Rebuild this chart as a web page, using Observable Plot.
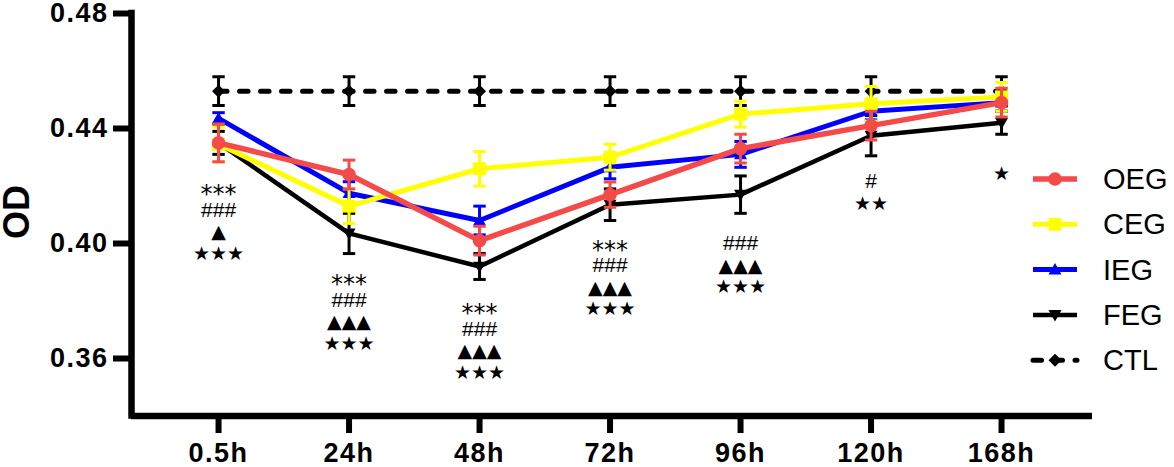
<!DOCTYPE html>
<html><head><meta charset="utf-8">
<script src="https://cdn.jsdelivr.net/npm/d3@7"></script>
<script src="https://cdn.jsdelivr.net/npm/@observablehq/plot@0.6"></script>
<style>
body{margin:0;background:#fff;}
#wrap{position:relative;width:1174px;height:467px;font-family:"Liberation Sans",Arial,Helvetica,sans-serif;}
#wrap svg{font-family:"Liberation Sans",Arial,Helvetica,sans-serif;}
g[aria-label="x-axis tick label"], g[aria-label="y-axis tick label"]{font-size:27px;font-weight:bold;letter-spacing:1.5px;}
#overlay{position:absolute;left:0;top:0;pointer-events:none;}
</style></head><body><div id="wrap"></div>
<script>
// ---- data ----
const times = ["0.5h","24h","48h","72h","96h","120h","168h"];
const OEG = [0.435, 0.424, 0.401, 0.417, 0.433, 0.441, 0.449];
const OEG_err = [0.0066, 0.005, 0.005, 0.0044, 0.005, 0.005, 0.005];
const CEG = [0.4345, 0.413, 0.426, 0.430, 0.445, 0.4486, 0.451];
const CEG_err = [0.006, 0.006, 0.006, 0.0045, 0.0045, 0.006, 0.005];
const IEG = [0.4435, 0.4175, 0.408, 0.4265, 0.431, 0.446, 0.449];
const IEG_err = [0.002, 0.004, 0.005, 0.004, 0.0045, 0.003, 0.003];
const FEG = [0.435, 0.4035, 0.392, 0.4135, 0.417, 0.4375, 0.442];
const FEG_err = [0.004, 0.007, 0.0045, 0.0055, 0.0065, 0.007, 0.004];
const CTL = [0.453, 0.453, 0.453, 0.453, 0.453, 0.453, 0.453];
const CTL_err = [0.005, 0.005, 0.005, 0.005, 0.005, 0.005, 0.005];
const annotations = [
  ["***","###","▲","★★★"],
  ["***","###","▲▲▲","★★★"],
  ["***","###","▲▲▲","★★★"],
  ["***","###","▲▲▲","★★★"],
  ["###","▲▲▲","★★★"],
  ["#","★★"],
  ["★"]
];
const annotationY = [0.4191, 0.3878, 0.3777, 0.3997, 0.4000, 0.4216, 0.4247];
const yTicks = [0.36, 0.40, 0.44, 0.48];
const yDomain = [0.34, 0.48];
const yLabel = "OD";

// ---- symbols ----
const unit = s => Math.sqrt(s / Math.PI);
const capSym = {draw(c, s){const r = unit(s); c.moveTo(-r,0); c.lineTo(r,0);}};
const triUp = {draw(c, s){const r = unit(s); c.moveTo(0,-r*1.0); c.lineTo(r,r*0.75); c.lineTo(-r,r*0.75); c.closePath();}};
const triDown = {draw(c, s){const r = unit(s); c.moveTo(0,r*1.0); c.lineTo(r,-r*0.75); c.lineTo(-r,-r*0.75); c.closePath();}};
const diamondSym = {draw(c, s){const r = unit(s); c.moveTo(0,-r); c.lineTo(r,0); c.lineTo(0,r); c.lineTo(-r,0); c.closePath();}};
const squareSym = {draw(c, s){const r = unit(s); c.rect(-r,-r,2*r,2*r);}};
const circleSym = {draw(c, s){const r = unit(s); c.moveTo(r,0); c.arc(0,0,r,0,2*Math.PI);}};

const series = [
  {name:"CTL", values:CTL, err:CTL_err, color:"#000000", symbol:diamondSym, r:6.5, width:5, dash:"8.5,12.5"},
  {name:"FEG", values:FEG, err:FEG_err, color:"#000000", symbol:triDown, r:6.5, width:4.5},
  {name:"IEG", values:IEG, err:IEG_err, color:"#0000ff", symbol:triUp, r:6.5, width:5},
  {name:"CEG", values:CEG, err:CEG_err, color:"#ffff00", symbol:squareSym, r:6.5, width:5},
  {name:"OEG", values:OEG, err:OEG_err, color:"#f44a4a", symbol:circleSym, r:6.8, width:5.5}
];
const legendOrder = ["OEG","CEG","IEG","FEG","CTL"];

const marks = [];
for (const s of series) {
  const rows = times.map((t, i) => ({i, time:t, value:s.values[i], err:s.err[i]}));
  const caps = rows.flatMap(d => [{i:d.i, y:d.value - d.err}, {i:d.i, y:d.value + d.err}]);
  marks.push(Plot.ruleX(rows, {x:"i", y1:d => d.value - d.err, y2:d => d.value + d.err, stroke:s.color, strokeWidth:3}));
  marks.push(Plot.dot(caps, {x:"i", y:"y", symbol:capSym, r:6.2, stroke:s.color, strokeWidth:3, fill:"none"}));
  marks.push(Plot.line(rows, {x:"i", y:"value", stroke:s.color, strokeWidth:s.width, strokeDasharray:s.dash, strokeLinecap:s.dash ? "round" : "butt"}));
  marks.push(Plot.dot(rows, {x:"i", y:"value", symbol:s.symbol, r:s.r, fill:s.color, stroke:"none"}));
}

// significance marks: one row per line of each stack
const yScaleK = (yDomain[1] - yDomain[0]) / (467 - 13 - 51.5); // data units per pixel
const lineStep = 21.3 * yScaleK;
const annRows = annotations.flatMap((lines, i) => lines.map((text, k) => ({i, k, text, y: annotationY[i] - k * lineStep})));
const annStyles = [
  {lead:"*", fontSize:24, fontFamily:"'DejaVu Sans',sans-serif", dy:6},
  {lead:"#", fontSize:21, fontFamily:"'Liberation Sans',Arial,sans-serif", dy:0},
  {lead:"▲", fontSize:19, fontFamily:"'DejaVu Sans',sans-serif", dy:1},
  {lead:"★", fontSize:19, fontFamily:"'DejaVu Sans',sans-serif", dy:1}
];
for (const st of annStyles) {
  marks.push(Plot.text(annRows.filter(d => d.text[0] === st.lead), {x:"i", y:"y", text:"text", lineAnchor:"middle",
    fontSize:st.fontSize, fontFamily:st.fontFamily, dy:st.dy, fill:"#000"}));
}

const xDomain = [-0.667, 6.697];
marks.push(Plot.ruleY([yDomain[0]], {y:d => d, stroke:"#000", strokeWidth:6.5}));
marks.push(Plot.ruleX([xDomain[0]], {x:d => d, y1:yDomain[0], y2:yDomain[1], stroke:"#000", strokeWidth:6.5, strokeLinecap:"square"}));
marks.push(Plot.axisX({ticks:d3.range(times.length), tickFormat:i => times[i], tickSize:17.5, tickPadding:9, strokeWidth:6, label:null}));
marks.push(Plot.axisY({ticks:yTicks, tickFormat:d3.format(".2f"), tickSize:18, tickPadding:5, strokeWidth:6, label:null}));

const chart = Plot.plot({
  width:1174, height:467,
  marginLeft:131, marginRight:82, marginTop:13, marginBottom:51.5,
  x:{type:"linear", domain:xDomain},
  y:{domain:yDomain},
  style:{fontFamily:"'Liberation Sans',Arial,sans-serif", background:"#fff"},
  marks
});
const wrap = document.getElementById("wrap");
wrap.appendChild(chart);

// ---- overlay: y-axis title and legend ----
const ov = d3.select(wrap).append("svg").attr("id","overlay").attr("width",1174).attr("height",467);
ov.append("text").attr("transform","translate(16.5,212) rotate(-90)").attr("text-anchor","middle").attr("dy","0.36em")
  .attr("font-size",36).attr("font-weight","bold").attr("font-family","'Liberation Sans',Arial,sans-serif").text(yLabel);
legendOrder.forEach((name, k) => {
  const s = series.find(d => d.name === name);
  const g = ov.append("g").attr("transform", `translate(1033,${179 + k*45.3})`);
  g.append("line").attr("x1",0).attr("x2",44).attr("stroke",s.color).attr("stroke-width",s.width)
    .attr("stroke-dasharray", s.dash ? "8.5,12.5" : null).attr("stroke-linecap", s.dash ? "round" : "butt");
  g.append("path").attr("transform","translate(22,0)").attr("fill",s.color)
    .attr("d", d3.symbol().type(s.symbol).size(Math.PI*s.r*s.r)());
  g.append("text").attr("x",70).attr("y",0).attr("dy","0.35em").attr("font-size",29)
    .attr("font-family","'Liberation Sans',Arial,sans-serif").text(name);
});
</script></body></html>
